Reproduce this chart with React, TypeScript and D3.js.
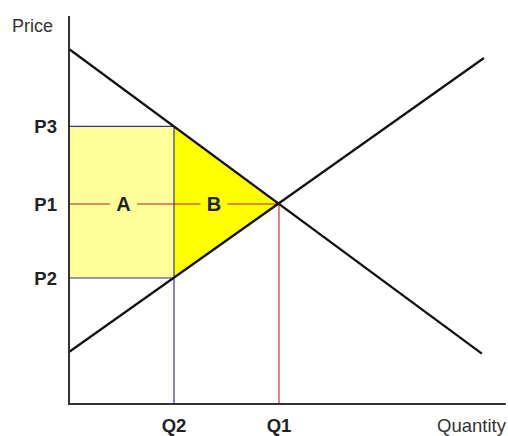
import React from "react";
import * as d3 from "d3";

// ---- data ----
const demand: [number, number][] = [[0, 88.75], [98.3, 12.6]];
const supply: [number, number][] = [[0, 13], [98.8, 86.5]];
const priceLabels = ["P3", "P1", "P2"];
const priceValues = [69.4, 50, 31.5];
const quantityLabels = ["Q2", "Q1"];
const quantityValues = [25, 50];
const areaLabels = ["A", "B"];
const areaQ = [13, 34.5];

const W = 508;
const H = 436;

export default function App() {
  const x = d3.scaleLinear().domain([0, 104]).range([69, 505.8]);
  const y = d3.scaleLinear().domain([0, 97]).range([404, 16]);
  const line = d3.line<[number, number]>().x((d) => x(d[0])).y((d) => y(d[1]));

  const [p3, p1, p2] = priceValues;
  const [q2, q1] = quantityValues;

  const rectA = { x: x(0), y: y(p3), w: x(q2) - x(0), h: y(p2) - y(p3) };
  const tri: [number, number][] = [[q2, p3], [q1, p1], [q2, p2]];
  const font = "'Liberation Sans', Arial, sans-serif";

  return (
    <svg
      width={W}
      height={H}
      style={{ position: "fixed", left: 0, top: 0, background: "#fff" }}
    >
      {/* shaded areas */}
      <rect x={rectA.x} y={rectA.y} width={rectA.w} height={rectA.h} fill="#ffff99" />
      <path d={line(tri) + "Z"} fill="#ffff00" />

      {/* blue guide lines */}
      <line x1={x(0)} x2={x(q2)} y1={y(p3)} y2={y(p3)} stroke="#333399" strokeWidth={1.2} />
      <line x1={x(0)} x2={x(q2)} y1={y(p2)} y2={y(p2)} stroke="#333399" strokeWidth={1.2} />
      <line x1={x(q2)} x2={x(q2)} y1={y(p3)} y2={y(0)} stroke="#333399" strokeWidth={1.2} />

      {/* red guide lines */}
      <line x1={x(0)} x2={x(q1)} y1={y(p1)} y2={y(p1)} stroke="#b22222" strokeWidth={1.2} />
      <line x1={x(q1)} x2={x(q1)} y1={y(p1)} y2={y(0)} stroke="#cc3333" strokeWidth={1.2} />

      {/* demand & supply */}
      <path d={line(demand) || ""} fill="none" stroke="#111" strokeWidth={2.2} />
      <path d={line(supply) || ""} fill="none" stroke="#111" strokeWidth={2.2} />

      {/* axes */}
      <line x1={x(0)} x2={x(0)} y1={y(97)} y2={y(0)} stroke="#333" strokeWidth={2} />
      <line x1={x(0) - 1} x2={x(104)} y1={y(0)} y2={y(0)} stroke="#333" strokeWidth={2} />

      {/* area labels with background gaps */}
      {areaLabels.map((t, i) => (
        <g key={t}>
          <rect
            x={x(areaQ[i]) - 13.5}
            y={y(p1) - 9}
            width={27}
            height={18}
            fill={i === 0 ? "#ffff99" : "#ffff00"}
          />
          <text
            x={x(areaQ[i])}
            y={y(p1)}
            dy="0.36em"
            textAnchor="middle"
            fontFamily={font}
            fontWeight="bold"
            fontSize={20}
            fill="#222"
          >
            {t}
          </text>
        </g>
      ))}

      {/* price labels */}
      {priceLabels.map((t, i) => (
        <text
          key={t}
          x={57}
          y={y(priceValues[i])}
          dy="0.36em"
          textAnchor="end"
          fontFamily={font}
          fontWeight="bold"
          fontSize={18.5}
          fill="#222"
        >
          {t}
        </text>
      ))}

      {/* quantity labels */}
      {quantityLabels.map((t, i) => (
        <text
          key={t}
          x={x(quantityValues[i])}
          y={432}
          textAnchor="middle"
          fontFamily={font}
          fontWeight="bold"
          fontSize={18.5}
          fill="#222"
        >
          {t}
        </text>
      ))}

      {/* axis titles */}
      <text x={12} y={32} fontFamily={font} fontSize={18} fill="#333">
        Price
      </text>
      <text x={506} y={432} textAnchor="end" fontFamily={font} fontSize={18.5} fill="#333">
        Quantity
      </text>
    </svg>
  );
}
